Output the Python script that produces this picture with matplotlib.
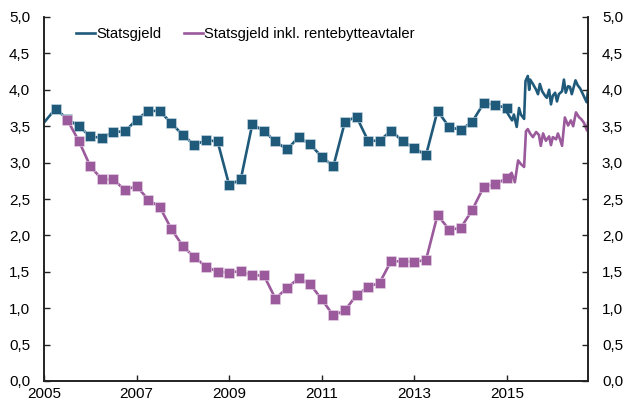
import matplotlib
matplotlib.use("Agg")
import matplotlib.pyplot as plt
from matplotlib.ticker import FixedLocator, FuncFormatter

plt.rcParams['font.family'] = ['Liberation Sans', 'DejaVu Sans']

# Quarterly observations (2005.0 + 0.25*k)
q_start = 2005.0
blue_q = [3.55, 3.74, 3.60, 3.50, 3.36, 3.34, 3.42, 3.43, 3.59, 3.71,
          3.71, 3.54, 3.38, 3.24, 3.31, 3.29, 2.69, 2.77, 3.53, 3.43,
          3.29, 3.18, 3.35, 3.25, 3.08, 2.95, 3.56, 3.63, 3.30, 3.30,
          3.44, 3.29, 3.20, 3.10, 3.71, 3.49, 3.45, 3.56, 3.82, 3.79,
          3.75]
purple_q_start = 2005.5
purple_q = [3.59, 3.30, 2.95, 2.77, 2.77, 2.62, 2.68, 2.49, 2.39, 2.09,
            1.85, 1.70, 1.57, 1.50, 1.49, 1.51, 1.45, 1.45, 1.13, 1.28,
            1.41, 1.33, 1.12, 0.90, 0.97, 1.18, 1.29, 1.35, 1.65, 1.64,
            1.64, 1.66, 2.28, 2.08, 2.10, 2.35, 2.67, 2.70, 2.79]

# Dense observations from 2015
blue_d_x = [2015.02, 2015.11, 2015.15, 2015.21, 2015.26, 2015.30, 2015.37,
            2015.40, 2015.45, 2015.48, 2015.50, 2015.56, 2015.63, 2015.67,
            2015.71, 2015.76, 2015.82, 2015.86, 2015.91, 2015.95, 2015.99,
            2016.04, 2016.08, 2016.12, 2016.19, 2016.23, 2016.27, 2016.32,
            2016.36, 2016.40, 2016.48, 2016.53, 2016.58, 2016.64, 2016.72,
            2016.75]
blue_d = [3.67, 3.58, 3.66, 3.49, 3.75, 3.66, 3.60,
          4.12, 4.19, 4.00, 4.14, 4.08, 4.00, 3.94,
          4.08, 3.98, 3.92, 3.89, 4.00, 3.80, 3.92,
          3.96, 3.84, 3.94, 3.98, 4.14, 3.96, 4.05,
          4.04, 3.94, 4.13, 4.06, 4.02, 3.94, 3.83,
          3.99]
purple_d_x = [2015.02, 2015.10, 2015.17, 2015.24, 2015.30, 2015.37, 2015.41,
              2015.45, 2015.50, 2015.56, 2015.63, 2015.69, 2015.73, 2015.78,
              2015.84, 2015.91, 2015.95, 2015.99, 2016.06, 2016.10, 2016.14,
              2016.19, 2016.25, 2016.32, 2016.38, 2016.43, 2016.49, 2016.56,
              2016.60, 2016.66, 2016.73, 2016.76]
purple_d = [2.80, 2.86, 2.73, 3.03, 2.98, 2.94, 3.43,
            3.46, 3.40, 3.35, 3.42, 3.38, 3.23, 3.40,
            3.30, 3.36, 3.24, 3.35, 3.32, 3.40, 3.33,
            3.23, 3.62, 3.51, 3.58, 3.50, 3.69, 3.62,
            3.60, 3.55, 3.44, 3.60]

labels = ["Statsgjeld", "Statsgjeld inkl. rentebytteavtaler"]
x_ticks = [2005, 2007, 2009, 2011, 2013, 2015]
y_ticks = [0.0, 0.5, 1.0, 1.5, 2.0, 2.5, 3.0, 3.5, 4.0, 4.5, 5.0]

BLUE = '#205a7b'
PURPLE = '#9b5a9b'

fig = plt.figure(figsize=(6.26, 4.03), dpi=100)
ax = fig.add_axes([44/626, 1-381/403, (588-44)/626, (381-17)/403])

bx = [q_start + 0.25*i for i in range(len(blue_q))]
px = [purple_q_start + 0.25*i for i in range(len(purple_q))]

lw = 1.9
ms = 6.5
ax.plot(bx, blue_q, color=BLUE, lw=lw, marker='s', ms=ms,
        markevery=list(range(1, len(bx))), mec='#cfe0ea', mew=0.4, zorder=3)
ax.plot(blue_d_x, blue_d, color=BLUE, lw=lw, zorder=3)
ax.plot(px, purple_q, color=PURPLE, lw=lw, marker='s', ms=ms,
        mec='#ead8ea', mew=0.4, zorder=4)
ax.plot(purple_d_x, purple_d, color=PURPLE, lw=lw, zorder=4)

# legend proxies
h1, = ax.plot([], [], color=BLUE, lw=lw)
h2, = ax.plot([], [], color=PURPLE, lw=lw)
ax.legend([h1, h2], labels, loc='upper left', bbox_to_anchor=(0.04, 1.0),
          ncol=2, frameon=False, fontsize=10.6, handlelength=1.3,
          handletextpad=0.1, columnspacing=1.5, borderaxespad=0.3)

ax.set_xlim(2005, 2016.75)
ax.set_ylim(0, 5)
ax.xaxis.set_major_locator(FixedLocator(x_ticks))
ax.yaxis.set_major_locator(FixedLocator(y_ticks))
fmt = FuncFormatter(lambda v, p: f"{v:.1f}".replace('.', ','))
ax.yaxis.set_major_formatter(fmt)

ax2 = ax.twinx()
ax2.set_ylim(0, 5)
ax2.yaxis.set_major_locator(FixedLocator(y_ticks))
ax2.yaxis.set_major_formatter(fmt)

for a in (ax, ax2):
    for s in a.spines.values():
        s.set_linewidth(1.2)
        s.set_color('#222222')
    a.tick_params(direction='in', length=4, width=1, labelsize=11,
                  colors='#222222', labelcolor='black')
ax.spines['top'].set_visible(False)
ax2.spines['top'].set_visible(False)
ax.tick_params(axis='y', pad=10)
ax.tick_params(axis='x', pad=4)
ax2.tick_params(axis='y', pad=10)

fig.savefig('out.png', dpi=100)
